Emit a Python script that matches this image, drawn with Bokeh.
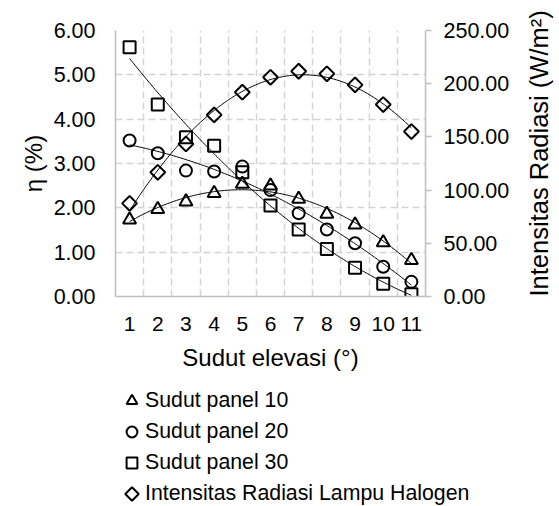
import numpy as np
from bokeh.plotting import figure
from bokeh.layouts import column
from bokeh.models import (Range1d, LinearAxis, FixedTicker, NumeralTickFormatter,
                          Legend, LegendItem, Title)
from bokeh.embed import file_html
from bokeh.resources import INLINE

# ---- data ----
sudut_elevasi = [1, 2, 3, 4, 5, 6, 7, 8, 9, 10, 11]
eta_panel_10 = [1.73, 1.97, 2.14, 2.33, 2.54, 2.50, 2.20, 1.86, 1.62, 1.22, 0.82]
eta_panel_20 = [3.52, 3.23, 2.84, 2.82, 2.93, 2.40, 1.88, 1.51, 1.20, 0.67, 0.33]
eta_panel_30 = [5.62, 4.33, 3.59, 3.40, 2.80, 2.05, 1.51, 1.07, 0.65, 0.29, 0.05]
intensitas_radiasi = [87.5, 116.7, 143.4, 170.7, 192.0, 206.0, 211.7, 209.3, 198.9, 180.4, 155.0]
series_labels = ["Sudut panel 10", "Sudut panel 20", "Sudut panel 30",
                 "Intensitas Radiasi Lampu Halogen"]

left_ticks = [0, 1, 2, 3, 4, 5, 6]
right_ticks = [0, 50, 100, 150, 200, 250]

FONT = "Liberation Sans"
GRID = "#d4d4d4"
AXIS = "#bfbfbf"
BORDER_L, BORDER_R = 115, 175
P_W = 600

p = figure(width=P_W, height=384, output_backend="svg", toolbar_location=None,
           x_range=Range1d(0.5, 11.5), y_range=Range1d(0, 6),
           min_border_left=BORDER_L, min_border_right=BORDER_R, min_border_top=30,
           min_border_bottom=88)
p.outline_line_color = None
p.background_fill_color = "white"
p.border_fill_color = "white"
p.extra_y_ranges = {"right": Range1d(0, 250)}

# grids
p.xgrid.ticker = FixedTicker(ticks=[v + 0.5 for v in [0] + sudut_elevasi])
p.ygrid.ticker = FixedTicker(ticks=left_ticks)
for g in (p.xgrid, p.ygrid):
    g.grid_line_color = GRID
    g.grid_line_dash = "7 4"
    g.grid_line_width = 1.5

# x axis
xa = p.xaxis[0]
xa.ticker = FixedTicker(ticks=sudut_elevasi)
xa.major_tick_out = 0
xa.major_tick_in = 0
xa.minor_tick_out = 0
xa.minor_tick_in = 0
xa.axis_line_color = AXIS
xa.axis_line_width = 1.5
xa.major_label_text_font = FONT
xa.major_label_text_font_size = "21px"
xa.major_label_text_color = "black"
xa.major_label_standoff = 20
xa.axis_label = "Sudut elevasi (°)"
xa.axis_label_text_font = FONT
xa.axis_label_text_font_size = "24px"
xa.axis_label_text_font_style = "normal"
xa.axis_label_text_color = "black"
xa.axis_label_standoff = 10

# left axis
ya = p.yaxis[0]
ya.ticker = FixedTicker(ticks=left_ticks)
ya.formatter = NumeralTickFormatter(format="0.00")
ya.major_tick_out = 0
ya.major_tick_in = 0
ya.minor_tick_out = 0
ya.minor_tick_in = 0
ya.axis_line_color = AXIS
ya.axis_line_width = 1.5
ya.major_label_text_font = FONT
ya.major_label_text_font_size = "21.5px"
ya.major_label_text_color = "black"
ya.major_label_standoff = 20

# right axis
ra = LinearAxis(y_range_name="right", ticker=FixedTicker(ticks=right_ticks),
                formatter=NumeralTickFormatter(format="0.00"))
ra.major_tick_out = 6
ra.major_tick_in = 0
ra.minor_tick_out = 0
ra.minor_tick_in = 0
ra.major_tick_line_color = AXIS
ra.major_tick_line_width = 1.5
ra.axis_line_color = AXIS
ra.axis_line_width = 1.5
ra.major_label_text_font = FONT
ra.major_label_text_font_size = "21.5px"
ra.major_label_text_color = "black"
ra.major_label_standoff = 12
ra.axis_label = "Intensitas Radiasi (W/m²)"
ra.axis_label_text_font = FONT
ra.axis_label_text_font_size = "25.5px"
ra.axis_label_text_font_style = "normal"
ra.axis_label_text_color = "black"
ra.axis_label_standoff = 27
try:
    ra.axis_label_orientation = np.pi / 2
except Exception:
    pass
try:
    ra.axis_label_align = "start"
except Exception:
    pass
p.add_layout(ra, "right")

# left axis title (shifted upwards like the reference)
p.add_layout(Title(text="η (%)", align="center", offset=33, text_font=FONT,
                   text_font_size="24px", text_font_style="normal",
                   text_color="black", standoff=7), "left")

# trend lines (2nd-order polynomial fits of the data)
xs = np.linspace(min(sudut_elevasi), max(sudut_elevasi), 200)
def trend(y, **kw):
    c = np.polyfit(sudut_elevasi, y, 2)
    p.line(xs, np.polyval(c, xs), line_color="black", line_width=1, **kw)

trend(eta_panel_10)
trend(eta_panel_20)
trend(eta_panel_30)
trend(intensitas_radiasi, y_range_name="right")

mk = dict(fill_color=None, line_color="black", line_width=2)
p.scatter(sudut_elevasi, eta_panel_10, marker="triangle", size=13, **mk)
p.scatter(sudut_elevasi, eta_panel_20, marker="circle", size=12, **mk)
p.scatter(sudut_elevasi, eta_panel_30, marker="square", size=12, **mk)
p.scatter(sudut_elevasi, intensitas_radiasi, marker="square", angle=np.pi / 4,
          size=10.5, y_range_name="right", **mk)

# ---- legend area below the chart (own figure, so the legend is not clipped) ----
LF_W, LF_H = 660, 122
LEG_X, LEG_Y, GLYPH = 3, -1, 27
lf = figure(width=LF_W, height=LF_H, output_backend="svg", toolbar_location=None,
            x_range=Range1d(0, LF_W - BORDER_L - BORDER_R), y_range=Range1d(0, LF_H),
            x_axis_location=None, y_axis_location=None,
            min_border_left=0, min_border_right=0, min_border_top=0, min_border_bottom=0)
lf.outline_line_color = None
lf.xgrid.visible = False
lf.ygrid.visible = False
lf.extra_x_ranges = {"off": Range1d(-1000, -999)}
lf.extra_y_ranges = {"off": Range1d(-1000, -999)}
off = dict(x_range_name="off", y_range_name="off")
la = lf.scatter(sudut_elevasi, eta_panel_10, marker="triangle", size=13, **mk, **off)
lb = lf.scatter(sudut_elevasi, eta_panel_20, marker="circle", size=12, **mk, **off)
lc = lf.scatter(sudut_elevasi, eta_panel_30, marker="square", size=12, **mk, **off)
ld = lf.scatter(sudut_elevasi, intensitas_radiasi, marker="square", size=10.5,
                fill_color=None, line_color="black", line_alpha=0, **off)
# legend keys ignore marker angle, so the diamond key is drawn at the legend slot
lf.scatter([LEG_X + GLYPH / 2], [LEG_Y + GLYPH / 2], marker="square", angle=np.pi / 4,
           size=9.5, **mk)

legend = Legend(items=[LegendItem(label=t, renderers=[r])
                       for t, r in zip(series_labels, [la, lb, lc, ld])],
                location=(LEG_X, LEG_Y), orientation="vertical")
legend.border_line_color = None
legend.background_fill_color = None
legend.padding = 0
legend.margin = 0
legend.spacing = 4
legend.glyph_width = GLYPH
legend.glyph_height = GLYPH
legend.label_height = GLYPH
legend.label_standoff = 0
legend.label_text_font = FONT
legend.label_text_font_size = "21.3px"
legend.label_text_color = "black"
lf.add_layout(legend, "center")

layout = column(p, lf, spacing=0)
open("out.html", "w").write(file_html(layout, INLINE))
